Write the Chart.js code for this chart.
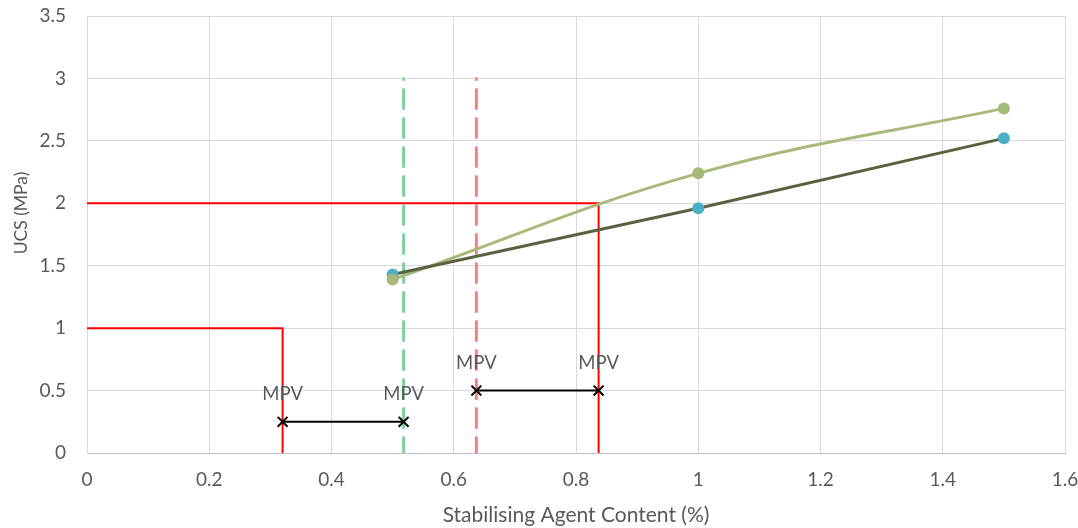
<!DOCTYPE html>
<html>
<head>
<meta charset="utf-8">
<script src="https://cdn.jsdelivr.net/npm/chart.js@4.4.1/dist/chart.umd.min.js"></script>
<style>
  html, body { margin: 0; padding: 0; background: #ffffff; }
  #wrap { width: 1078px; height: 528px; }
</style>
</head>
<body>
<div id="wrap"><canvas id="ucs" width="1078" height="528"></canvas></div>
<script>
// Stabilising agent content (%) and measured UCS (MPa)
const agentContent = [0.5, 1.0, 1.5];
const ucsSeriesA = [1.43, 1.96, 2.52];
const ucsSeriesB = [1.39, 2.24, 2.76];

// Target strengths and the contents at which they are reached
const targetUcsLow = 1;
const targetContentLow = 0.32;
const targetUcsHigh = 2;
const targetContentHigh = 0.837;

// Design contents (vertical guides) and their top
const designContentA = 0.518;
const designContentB = 0.637;
const guideTop = 3;

// MPV ranges
const mpvLowLevel = 0.25;
const mpvLowRange = [0.32, 0.518];
const mpvHighLevel = 0.5;
const mpvHighRange = [0.637, 0.837];
const mpvText = 'MPV';

// Axis ticks
const xTicks = [0, 0.2, 0.4, 0.6, 0.8, 1, 1.2, 1.4, 1.6];
const yTicks = [0, 0.5, 1, 1.5, 2, 2.5, 3, 3.5];

const FONT = 'Lato, "Open Sans", sans-serif';
const TEXT = '#595959';

const pts = (xs, ys) => xs.map((x, i) => ({ x: x, y: ys[i] }));

// keep the plot area fixed: tick labels may overhang its edges
const noOverhang = s => {
  s.paddingTop = 0; s.paddingBottom = 0; s.paddingLeft = 0; s.paddingRight = 0;
};

const titlesAndLabels = {
  id: 'titlesAndLabels',
  afterDatasetsDraw(chart) {
    const ctx = chart.ctx;
    const xs = chart.scales.x, ys = chart.scales.y;
    const area = chart.chartArea;
    ctx.save();
    ctx.fillStyle = TEXT;
    ctx.textAlign = 'center';
    ctx.textBaseline = 'middle';
    ctx.font = '18.5px ' + FONT;
    chart.data.datasets.forEach(ds => {
      if (!ds.mpv) return;
      ds.data.forEach(p => {
        ctx.fillText(mpvText, xs.getPixelForValue(p.x), ys.getPixelForValue(p.y) - 28);
      });
    });
    ctx.font = '21px ' + FONT;
    ctx.fillText('Stabilising Agent Content (%)', (area.left + area.right) / 2, 515);
    ctx.font = '17.5px ' + FONT;
    ctx.translate(21, 213);
    ctx.rotate(-Math.PI / 2);
    ctx.fillText('UCS (MPa)', 0, 0);
    ctx.restore();
  }
};

new Chart(document.getElementById('ucs'), {
  type: 'scatter',
  data: {
    datasets: [
      {
        data: pts(agentContent, ucsSeriesB), showLine: false,
        pointRadius: 6, pointBackgroundColor: '#a5b978', pointBorderColor: '#a5b978', pointBorderWidth: 0,
        order: 1
      },
      {
        data: pts(agentContent, ucsSeriesA), showLine: false,
        pointRadius: 6, pointBackgroundColor: '#4bafc8', pointBorderColor: '#4bafc8', pointBorderWidth: 0,
        order: 2
      },
      {
        data: pts(agentContent, ucsSeriesA), showLine: true, pointRadius: 0,
        borderColor: '#5a6140', borderWidth: 3, tension: 0,
        order: 3
      },
      {
        data: pts(agentContent, ucsSeriesB), showLine: true, pointRadius: 0,
        borderColor: '#a7ba7c', borderWidth: 3, tension: 0.4,
        order: 4
      },
      {
        data: [{ x: mpvLowRange[0], y: mpvLowLevel }, { x: mpvLowRange[1], y: mpvLowLevel }],
        mpv: true, showLine: true, borderColor: '#000000', borderWidth: 2,
        pointStyle: 'crossRot', pointRadius: 7, pointBorderColor: '#000000', pointBorderWidth: 2,
        order: 5
      },
      {
        data: [{ x: mpvHighRange[0], y: mpvHighLevel }, { x: mpvHighRange[1], y: mpvHighLevel }],
        mpv: true, showLine: true, borderColor: '#000000', borderWidth: 2,
        pointStyle: 'crossRot', pointRadius: 7, pointBorderColor: '#000000', pointBorderWidth: 2,
        order: 6
      },
      {
        data: [{ x: designContentA, y: guideTop }, { x: designContentA, y: 0 }],
        showLine: true, pointRadius: 0, borderColor: '#7fcf9f', borderWidth: 3,
        borderDash: [19, 10], borderDashOffset: 18, borderCapStyle: 'round',
        order: 7
      },
      {
        data: [{ x: designContentB, y: guideTop }, { x: designContentB, y: 0 }],
        showLine: true, pointRadius: 0, borderColor: '#f48282', borderWidth: 3,
        borderDash: [19, 10], borderDashOffset: 18, borderCapStyle: 'round',
        order: 8
      },
      {
        data: [{ x: 0, y: targetUcsLow }, { x: targetContentLow, y: targetUcsLow }, { x: targetContentLow, y: 0 }],
        showLine: true, pointRadius: 0, borderColor: '#ff0000', borderWidth: 2, tension: 0,
        order: 9
      },
      {
        data: [{ x: 0, y: targetUcsHigh }, { x: targetContentHigh, y: targetUcsHigh }, { x: targetContentHigh, y: 0 }],
        showLine: true, pointRadius: 0, borderColor: '#ff0000', borderWidth: 2, tension: 0,
        order: 10
      }
    ]
  },
  options: {
    responsive: false,
    animation: false,
    events: [],
    layout: { padding: { left: 0, top: 16, right: 13, bottom: 0 } },
    plugins: { legend: { display: false }, tooltip: { enabled: false } },
    scales: {
      x: {
        type: 'linear', min: 0, max: 1.6,
        afterBuildTicks: s => { s.ticks = xTicks.map(v => ({ value: v })); },
        afterFit: s => { s.height = 75; noOverhang(s); },
        ticks: { color: TEXT, font: { family: FONT, size: 19 }, padding: 15, maxRotation: 0,
                 callback: v => String(v) },
        grid: { color: '#d9d9d9', lineWidth: 1, drawTicks: false },
        border: { color: '#bfbfbf', width: 1 }
      },
      y: {
        type: 'linear', min: 0, max: 3.5,
        afterBuildTicks: s => { s.ticks = yTicks.map(v => ({ value: v })); },
        afterFit: s => { s.width = 87; noOverhang(s); },
        ticks: { color: TEXT, font: { family: FONT, size: 19 }, padding: 21,
                 callback: v => String(v) },
        grid: { color: '#d9d9d9', lineWidth: 1, drawTicks: false },
        border: { color: '#d9d9d9', width: 1 }
      }
    }
  },
  plugins: [titlesAndLabels]
});
</script>
</body>
</html>
